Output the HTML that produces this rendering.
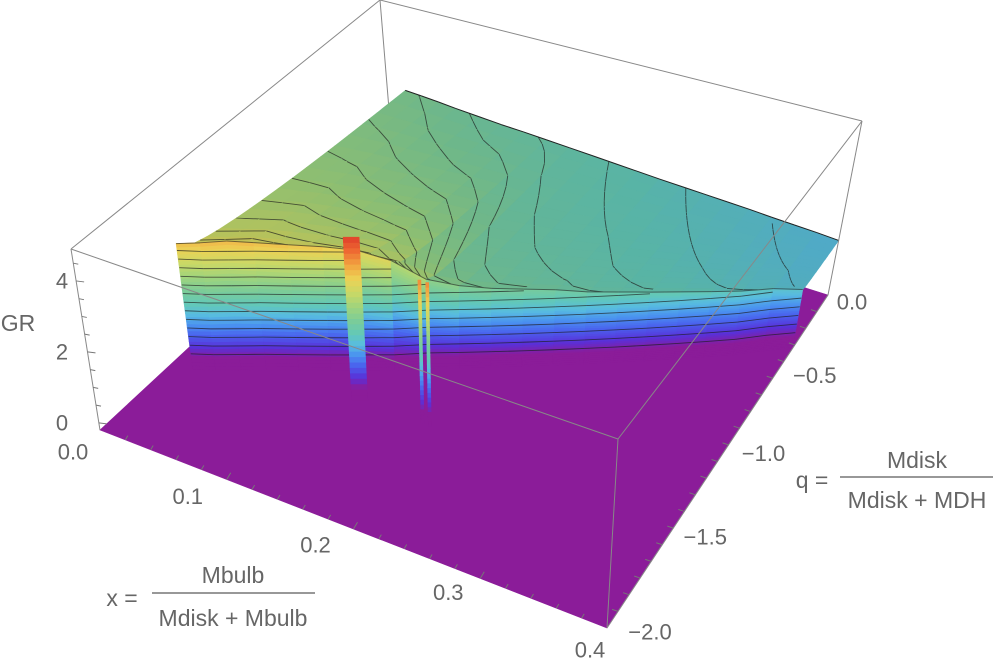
<!DOCTYPE html>
<html><head><meta charset="utf-8"><title>GR surface</title>
<style>
html,body{margin:0;padding:0;background:#fff;}
svg{display:block;font-family:"Liberation Sans",Arial,sans-serif;}
</style></head>
<body>
<svg id="chart" width="1001" height="667" viewBox="0 0 1001 667" xmlns="http://www.w3.org/2000/svg">
  <g id="back"></g>
  <g id="floor"></g>
  <g id="top"></g>
  <g id="walls"></g>
  <g id="spikes"></g>
  <g id="box"></g>
  <g id="ticks"></g>
  <g id="labels" fill="#666" font-size="22"></g>
  <text x="18" y="331" font-size="23" fill="#666" text-anchor="middle">GR</text>
  <g fill="#666" font-size="23">
    <text x="122" y="606" text-anchor="middle">x =</text>
    <text x="233" y="583" text-anchor="middle">Mbulb</text>
    <line x1="152" y1="593" x2="315" y2="593" stroke="#777" stroke-width="1.5"/>
    <text x="233" y="626" text-anchor="middle">Mdisk + Mbulb</text>
  </g>
  <g fill="#666" font-size="23">
    <text x="812" y="488" text-anchor="middle">q =</text>
    <text x="917" y="468" text-anchor="middle">Mdisk</text>
    <line x1="840" y1="477" x2="993" y2="477" stroke="#777" stroke-width="1.5"/>
    <text x="917" y="508" text-anchor="middle">Mdisk + MDH</text>
  </g>
</svg>
<script>
// ---- data ----
const xVals = [0.016,0.03,0.045,0.06,0.08,0.10,0.12,0.14,0.16,0.18,0.20,0.22,0.24,0.26,0.28,0.30,0.32,0.34,0.36,0.38,0.40];
const cliffQ = [-1.50,-1.46,-1.41,-1.36,-1.30,-1.24,-1.18,-1.12,-1.05,-0.99,-0.93,-0.87,-0.81,-0.75,-0.69,-0.63,-0.57,-0.51,-0.45,-0.38,-0.32];
const frontGR = [3.45,3.5,3.55,3.5,3.45,3.4,3.3,3.0,2.4,2.2,2.1,2.05,2.0,1.9,1.85,1.8,1.75,1.7,1.65,1.6,1.5];
const backGR = [2.15,2.12,2.08,2.03,1.98,1.93,1.9,1.86,1.82,1.78,1.74,1.7,1.66,1.63,1.6,1.57,1.54,1.5,1.47,1.44,1.4];
const spikeX = [0.135,0.187,0.193];
const spikeQ = [-1.34,-1.34,-1.34];
const spikeTop = [4.5,3.9,3.9];
const xTicks = [0,0.1,0.2,0.3,0.4];
const xTickText = ["0.0","0.1","0.2","0.3","0.4"];
const qTicks = [0,-0.5,-1,-1.5,-2];
const qTickText = ["0.0","\u22120.5","\u22121.0","\u22121.5","\u22122.0"];
const zTicks = [0,2,4];
const zTickText = ["0","2","4"];
// ---- styles / geometry ----
const spikeWidthPx = [16,3,3];
const xLabelDx=[-27,-39,-38,-32,-17], xLabelDy=[22,17,16,14,22];
const qLabelDx=[24,42,46,43,43], qLabelDy=[7,-3,-8,-8,4];
const zMin=-0.2, zMax=4.9;
const C={FLB:[100,430],FLT:[71,249],FRB:[607,628],FRT:[618,439],BRB:[828,295],BRT:[862,121],BLB:[393,158],BLT:[380,0]};
const cmapZ=[-0.2,0.15,0.45,0.8,1.1,1.4,1.7,2.1,2.5,2.9,3.3,3.7,4.1,4.5];
const cmapC=["#8b1c99","#8b1c99","#5a30d8","#4a62ee","#4a92f0","#58bce0","#62c8b8","#7ccc98","#a0d47c","#cad866","#ecd255","#f2a440","#ee6a32","#e0402a"];
const NS="http://www.w3.org/2000/svg";

function bil(a,b,c,d,u,v){return [a[0]*(1-u)*(1-v)+b[0]*u*(1-v)+c[0]*u*v+d[0]*(1-u)*v, a[1]*(1-u)*(1-v)+b[1]*u*(1-v)+c[1]*u*v+d[1]*(1-u)*v];}
function proj(x,q,z){const u=x/0.4,v=(q+2)/2,w=(z-zMin)/(zMax-zMin);
  const b=bil(C.FLB,C.FRB,C.BRB,C.BLB,u,v),t=bil(C.FLT,C.FRT,C.BRT,C.BLT,u,v);
  return [b[0]+(t[0]-b[0])*w,b[1]+(t[1]-b[1])*w];}
function hex(h){return [parseInt(h.substr(1,2),16),parseInt(h.substr(3,2),16),parseInt(h.substr(5,2),16)];}
function color(z,k){k=k||1;let i=0;while(i<cmapZ.length-2&&z>cmapZ[i+1])i++;
  let t=(z-cmapZ[i])/(cmapZ[i+1]-cmapZ[i]);t=Math.max(0,Math.min(1,t));
  const a=hex(cmapC[i]),b=hex(cmapC[i+1]);
  return "rgb("+[0,1,2].map(j=>Math.round((a[j]+(b[j]-a[j])*t)*k)).join(",")+")";}
function pts(a){return a.map(p=>p[0].toFixed(1)+","+p[1].toFixed(1)).join(" ");}
function poly(g,p,fill,name){const e=document.createElementNS(NS,"polygon");e.setAttribute("points",pts(p));e.setAttribute("fill",fill);e.setAttribute("stroke",fill);e.setAttribute("stroke-width","0.6");
  
  
  g.appendChild(e);return e;}
function line(g,a,b,stroke,w,name){const e=document.createElementNS(NS,"line");e.setAttribute("x1",a[0]);e.setAttribute("y1",a[1]);e.setAttribute("x2",b[0]);e.setAttribute("y2",b[1]);e.setAttribute("stroke",stroke);e.setAttribute("stroke-width",w);
  
  
  g.appendChild(e);return e;}
function text(g,p,s,name){const e=document.createElementNS(NS,"text");e.setAttribute("x",p[0]);e.setAttribute("y",p[1]);e.setAttribute("text-anchor","middle");e.setAttribute("dominant-baseline","central");e.textContent=s;
  
  
  g.appendChild(e);}
const G=id=>document.getElementById(id);

line(G("back"),C.BLT,C.BLB,"#888",1,"box-edge-back-left");
poly(G("floor"),[proj(0,-2,zMin),proj(0.4,-2,zMin),proj(0.4,0,zMin),proj(0,0,zMin)],"#8b1c99","floor-plane");

// plateau top
const NSEG=16;
function H(i,s){return frontGR[i]+(backGR[i]-frontGR[i])*Math.pow(s,0.45);}
function Q(i,s){return cliffQ[i]*(1-s);}
const topG=G("top");
for(let j=NSEG-1;j>=0;j--){
  for(let i=0;i<xVals.length-1;i++){
    const s0=j/NSEG,s1=(j+1)/NSEG;
    const c=[[i,s0],[i+1,s0],[i+1,s1],[i,s1]];
    const zs=c.map(p=>H(p[0],p[1]));
    const P=c.map(p=>proj(xVals[p[0]],Q(p[0],p[1]),H(p[0],p[1])));
    const za=(zs[0]+zs[1]+zs[2]+zs[3])/4;
    poly(topG,P,color(za,0.9),"plateau-cell");
    for(let L=0.125;L<5;L+=0.125){
      const cr=[];
      for(let e=0;e<4;e++){const a=zs[e],b=zs[(e+1)%4];
        if((a-L)*(b-L)<0){const t=(L-a)/(b-a);cr.push([P[e][0]+(P[(e+1)%4][0]-P[e][0])*t,P[e][1]+(P[(e+1)%4][1]-P[e][1])*t]);}}
      if(cr.length>=2)line(topG,cr[0],cr[1],"rgba(30,30,30,0.7)",0.9,"plateau-contour");
    }
  }
}

// cliff wall
const wallG=G("walls"),NB=36;
for(let i=0;i<xVals.length-1;i++){
  const fa=frontGR[i],fb=frontGR[i+1];
  for(let k=0;k<NB;k++){
    const a0=zMin+(fa-zMin)*k/NB,a1=zMin+(fa-zMin)*(k+1)/NB,b0=zMin+(fb-zMin)*k/NB,b1=zMin+(fb-zMin)*(k+1)/NB;
    const P=[proj(xVals[i],cliffQ[i],a0),proj(xVals[i+1],cliffQ[i+1],b0),proj(xVals[i+1],cliffQ[i+1],b1),proj(xVals[i],cliffQ[i],a1)];
    poly(wallG,P,color((a0+a1+b0+b1)/4),"wall-band");
  }
}
for(let L=0.25;L<5;L+=0.25){
  for(let i=0;i<xVals.length-1;i++){
    if(L<frontGR[i]&&L<frontGR[i+1])line(wallG,proj(xVals[i],cliffQ[i],L),proj(xVals[i+1],cliffQ[i+1],L),"rgba(30,30,30,0.7)",0.9,"wall-contour");
  }
}
for(let i=0;i<xVals.length-1;i++)line(wallG,proj(xVals[i],cliffQ[i],frontGR[i]),proj(xVals[i+1],cliffQ[i+1],frontGR[i+1]),"rgba(30,30,30,0.6)",1,"wall-top-edge");
for(let i=0;i<xVals.length-1;i++)line(wallG,proj(xVals[i],0,backGR[i]),proj(xVals[i+1],0,backGR[i+1]),"#222",1,"plateau-back-edge");

// spikes
const spG=G("spikes");
for(let n=0;n<spikeX.length;n++){
  const steps=30,hw=spikeWidthPx[n]/2;
  for(let k=0;k<steps;k++){
    const z0=zMin+(spikeTop[n]-zMin)*k/steps,z1=zMin+(spikeTop[n]-zMin)*(k+1)/steps;
    const p0=proj(spikeX[n],spikeQ[n],z0),p1=proj(spikeX[n],spikeQ[n],z1);
    poly(spG,[[p0[0]-hw,p0[1]],[p0[0]+hw,p0[1]],[p1[0]+hw,p1[1]],[p1[0]-hw,p1[1]]],color((z0+z1)/2),"spike-band");
  }
}

// box edges
const bx=G("box"),bc="#888";
line(bx,C.FLT,C.FRT,bc,1,"box-edge-top-front");
line(bx,C.FRT,C.BRT,bc,1,"box-edge-top-right");
line(bx,C.BRT,C.BLT,bc,1,"box-edge-top-back");
line(bx,C.BLT,C.FLT,bc,1,"box-edge-top-left");
line(bx,C.FLT,C.FLB,bc,1,"box-edge-front-left");
line(bx,C.FRT,C.FRB,bc,1,"box-edge-front-right");
line(bx,C.BRT,C.BRB,bc,1,"box-edge-back-right");
line(bx,C.FRB,C.BRB,bc,1,"box-edge-bottom-right");

// ticks
const tg=G("ticks");
for(let z=0;z<=4.51;z+=0.5){const p=proj(0,-2,z);line(tg,p,[p[0]+(Math.abs(z%2)<0.01?8:5),p[1]+1],"#777",1,"z-tick");}
for(let x=0.02;x<0.399;x+=0.02){const p=proj(x,-2,zMin);const L=Math.abs((x*10)%1)<0.01||Math.abs((x*10)%1)>0.99?8:5;line(tg,p,[p[0]+L*0.5,p[1]-L*0.85],"#777",1,"x-tick");}
for(let q=-1.9;q<-0.05;q+=0.1){const p=proj(0.4,q,zMin);line(tg,p,[p[0]-6,p[1]-2],"#777",1,"q-tick");}

// labels
const lg=G("labels");
xTicks.forEach((x,i)=>{const p=proj(x,-2,zMin);text(lg,[p[0]+xLabelDx[i],p[1]+xLabelDy[i]],xTickText[i],"x-tick-label");});
qTicks.forEach((q,i)=>{const p=proj(0.4,q,zMin);text(lg,[p[0]+qLabelDx[i],p[1]+qLabelDy[i]],qTickText[i],"q-tick-label");});
zTicks.forEach((z,i)=>{const p=proj(0,-2,z);text(lg,[62,p[1]],zTickText[i],"z-tick-label");});
</script>
</body></html>
